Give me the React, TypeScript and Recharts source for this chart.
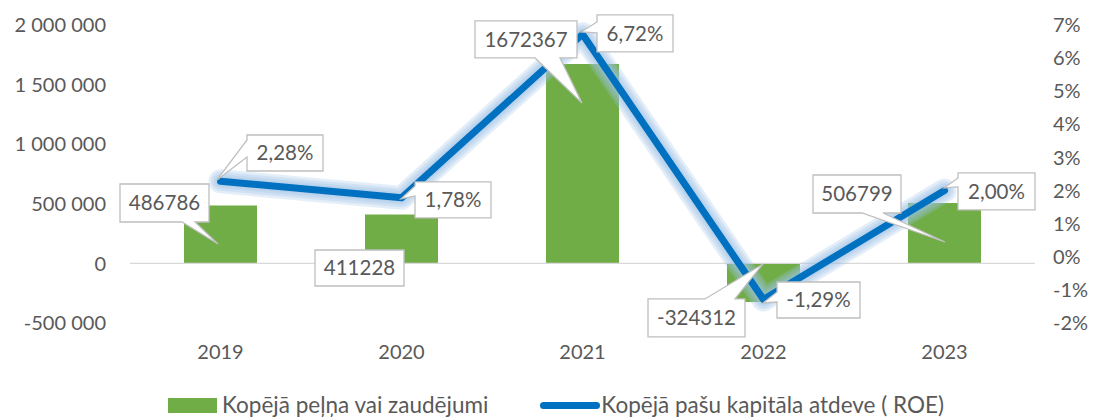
import React from "react";
import { ComposedChart, Bar, Line, XAxis, YAxis, ReferenceLine, LabelList } from "recharts";

const years = ["2019", "2020", "2021", "2022", "2023"];
const profit = [486786, 411228, 1672367, -324312, 506799];
const roe = [2.28, 1.78, 6.72, -1.29, 2.0];
const leftTicks = [-500000, 0, 500000, 1000000, 1500000, 2000000];
const rightTicks = [-2, -1, 0, 1, 2, 3, 4, 5, 6, 7];
const profitName = "Kopējā peļņa vai zaudējumi";
const roeName = "Kopējā pašu kapitāla atdeve ( ROE)";

const data = years.map((year, i) => ({ year, profit: profit[i], roe: roe[i] }));

const FONT = "Lato, 'Open Sans', sans-serif";
const TEXT = "#595959";
const GREEN = "#70AD47";
const BLUE = "#0070C0";
const GLOW = "#9dc3e6";

// callout placement, relative to the data point (Excel moved these by hand)
type Callout = { bx: number; by: number; w: number; h: number; edge: string; a: number; b: number; tx: number; ty: number };

const barCallouts: Callout[] = [
  { bx: -100.5, by: -21.4, w: 89, h: 38, edge: "bottom", a: 62, b: 75, tx: -2.5, ty: 38.6 },
  { bx: -86.5, by: 35.6, w: 89, h: 36, edge: "none", a: 0, b: 0, tx: 0, ty: 0 },
  { bx: -107.5, by: -43.1, w: 102, h: 37, edge: "bottom", a: 60, b: 85, tx: -0.5, ty: 38.9 },
  { bx: -115.5, by: -3.1, w: 97, h: 38, edge: "top", a: 57, b: 87, tx: -0.5, ty: -38.1 },
  { bx: -131.5, by: -28, w: 88, h: 38, edge: "bottom", a: 49, b: 70, tx: 0.5, ty: 39 },
];

const roeCallouts: Callout[] = [
  { bx: 26.5, by: -46.3, w: 76, h: 36, edge: "left", a: 5, b: 22, tx: -3.5, ty: -1.3 },
  { bx: 13.5, by: -15.9, w: 76, h: 36, edge: "left", a: 4, b: 14, tx: -0.5, ty: 1 },
  { bx: 14.5, by: -19.3, w: 76, h: 37, edge: "left", a: 7, b: 18, tx: -1.5, ty: -2.3 },
  { bx: 13.5, by: -17.5, w: 83, h: 36, edge: "left", a: 10, b: 20, tx: -0.5, ty: 3.5 },
  { bx: 13.5, by: -17.6, w: 77, h: 37, edge: "left", a: 5, b: 14, tx: -0.5, ty: -2.6 },
];

const fmtThousands = (v: number) => String(v).replace(/\B(?=(\d{3})+(?!\d))/g, " ");
const fmtPct = (v: number) => v.toFixed(2).replace(".", ",") + "%";

const calloutPath = (x0: number, y0: number, c: Callout, tx: number, ty: number) => {
  const x1 = x0 + c.w;
  const y1 = y0 + c.h;
  let d = `M${x0},${y0}`;
  if (c.edge === "top") d += ` L${x0 + c.a},${y0} L${tx},${ty} L${x0 + c.b},${y0}`;
  d += ` L${x1},${y0}`;
  if (c.edge === "right") d += ` L${x1},${y0 + c.a} L${tx},${ty} L${x1},${y0 + c.b}`;
  d += ` L${x1},${y1}`;
  if (c.edge === "bottom") d += ` L${x0 + c.b},${y1} L${tx},${ty} L${x0 + c.a},${y1}`;
  d += ` L${x0},${y1}`;
  if (c.edge === "left") d += ` L${x0},${y0 + c.b} L${tx},${ty} L${x0},${y0 + c.a}`;
  return d + " Z";
};

const makeCallout = (list: Callout[], values: number[], fmt: (v: number) => string) => (props: any) => {
  const { x, y, value } = props;
  let idx = typeof props.index === "number" ? props.index : values.indexOf(Number(value));
  if (idx < 0 || x == null || y == null) return null;
  const c = list[idx];
  const x0 = x + c.bx;
  const y0 = y + c.by;
  return (
    <g>
      <path d={calloutPath(x0, y0, c, x + c.tx, y + c.ty)} fill="#fff" stroke="#bfbfbf" strokeWidth={1.3} />
      <text x={x0 + c.w / 2} y={y0 + c.h / 2} dy="0.36em" textAnchor="middle" fill={TEXT} fontSize={20.5} fontFamily={FONT}>
        {fmt(values[idx])}
      </text>
    </g>
  );
};

const BarCallout = makeCallout(barCallouts, profit, (v) => String(v));
const RoeCallout = makeCallout(roeCallouts, roe, fmtPct);

// soft glow under the ROE line: a few wide translucent strokes
const glowWidths = [24, 19, 14, 10];

export default function App() {
  const tickStyle = { fill: TEXT, fontSize: 20, fontFamily: FONT };
  return (
    <div style={{ position: "absolute", left: 0, top: 0, width: 1097, height: 417, background: "#fff", fontFamily: FONT, overflow: "hidden" }}>
      <ComposedChart width={1097} height={417} data={data} margin={{ top: 25, right: 0, bottom: 64, left: 0 }}>
        <XAxis dataKey="year" height={30} axisLine={false} tickLine={false} tickSize={0} tickMargin={22} tick={tickStyle} />
        <YAxis
          yAxisId="left"
          width={130}
          domain={[-500000, 2000000]}
          ticks={leftTicks}
          interval={0}
          axisLine={false}
          tickLine={false}
          tickSize={0}
          tickMargin={24}
          tick={tickStyle}
          tickFormatter={fmtThousands}
        />
        <YAxis
          yAxisId="right"
          orientation="right"
          width={62}
          domain={[-2, 7]}
          ticks={rightTicks}
          interval={0}
          axisLine={false}
          tickLine={false}
          tickSize={0}
          tickMargin={18}
          tick={tickStyle}
          tickFormatter={(v: number) => `${v}%`}
        />
        <ReferenceLine yAxisId="left" y={0} stroke="#d9d9d9" strokeWidth={1.3} />
        <Bar yAxisId="left" dataKey="profit" name={profitName} fill={GREEN} barSize={73} isAnimationActive={false} />
        {glowWidths.map((w) => (
          <Line
            key={w}
            yAxisId="right"
            dataKey="roe"
            type="linear"
            stroke={GLOW}
            strokeOpacity={0.28}
            strokeWidth={w}
            strokeLinejoin="round"
            strokeLinecap="round"
            dot={false}
            activeDot={false}
            legendType="none"
            isAnimationActive={false}
          />
        ))}
        <Line
          yAxisId="right"
          dataKey="roe"
          name={roeName}
          type="linear"
          stroke={BLUE}
          strokeWidth={7}
          strokeLinejoin="round"
          strokeLinecap="round"
          dot={false}
          activeDot={false}
          isAnimationActive={false}
        />
        <Line yAxisId="left" dataKey="profit" stroke="none" dot={false} activeDot={false} legendType="none" isAnimationActive={false}>
          <LabelList dataKey="profit" content={BarCallout} />
        </Line>
        <Line yAxisId="right" dataKey="roe" stroke="none" dot={false} activeDot={false} legendType="none" isAnimationActive={false}>
          <LabelList dataKey="roe" content={RoeCallout} />
        </Line>
      </ComposedChart>
      <div style={{ position: "absolute", left: 168, top: 393, display: "flex", alignItems: "center", color: TEXT, fontSize: 22.5, lineHeight: "24px", whiteSpace: "nowrap" }}>
        <span style={{ display: "inline-block", width: 49, height: 15, background: GREEN, marginRight: 5 }} />
        <span>{profitName}</span>
        <span style={{ display: "inline-block", width: 60, height: 7, borderRadius: 4, background: BLUE, marginLeft: 52, marginRight: 1 }} />
        <span>{roeName}</span>
      </div>
    </div>
  );
}
